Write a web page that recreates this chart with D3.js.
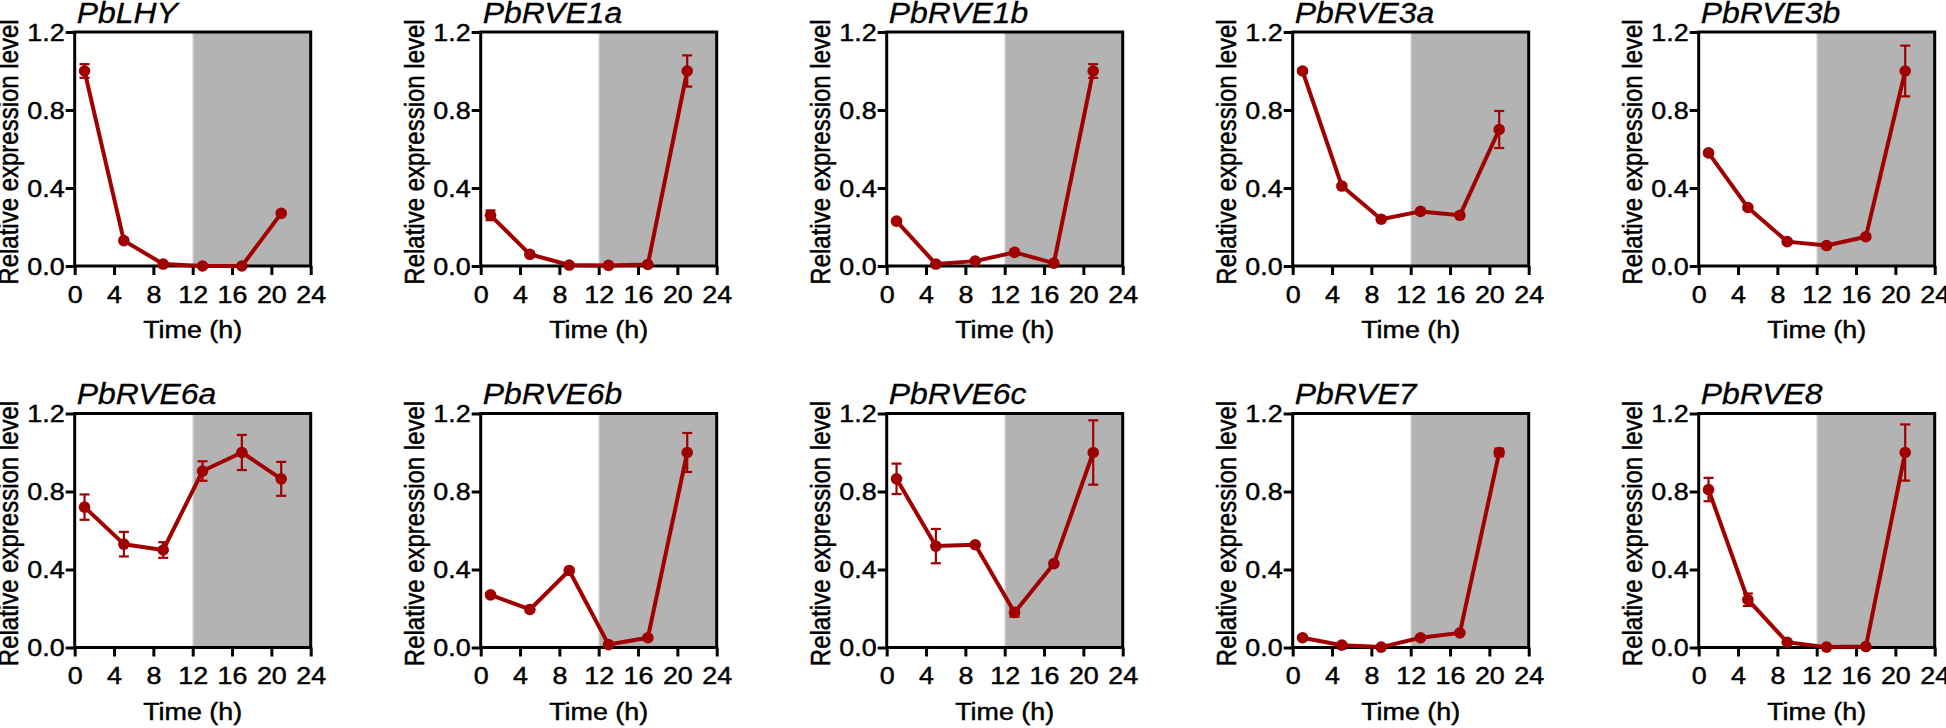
<!DOCTYPE html>
<html>
<head>
<meta charset="utf-8">
<script src="https://cdn.jsdelivr.net/npm/d3@7"></script>
<style>
  html, body { margin: 0; padding: 0; background: #ffffff; }
  svg { display: block; }
  text { font-family: "Liberation Sans", Arial, sans-serif; fill: #000; stroke: #000; stroke-width: 0.45px; }
</style>
</head>
<body>
<svg id="chart" width="1946" height="728"></svg>
<script>
// ---------------- data ----------------
const genes = ["PbLHY", "PbRVE1a", "PbRVE1b", "PbRVE3a", "PbRVE3b",
               "PbRVE6a", "PbRVE6b", "PbRVE6c", "PbRVE7", "PbRVE8"];
const times = [1, 5, 9, 13, 17, 21];
const xTicks = [0, 4, 8, 12, 16, 20, 24];
const yTicks = [0.0, 0.4, 0.8, 1.2];
const darkPeriod = [12, 24];

const meanLHY   = [1.00, 0.13, 0.01, 0.00, 0.00, 0.27];
const meanRVE1a = [0.26, 0.06, 0.005, 0.003, 0.008, 1.00];
const meanRVE1b = [0.23, 0.01, 0.025, 0.07, 0.015, 1.00];
const meanRVE3a = [1.00, 0.41, 0.24, 0.28, 0.26, 0.70];
const meanRVE3b = [0.58, 0.30, 0.125, 0.105, 0.15, 1.00];
const meanRVE6a = [0.72, 0.53, 0.50, 0.905, 1.00, 0.865];
const meanRVE6b = [0.27, 0.195, 0.395, 0.015, 0.05, 1.00];
const meanRVE6c = [0.865, 0.52, 0.527, 0.18, 0.43, 1.00];
const meanRVE7  = [0.05, 0.012, 0.002, 0.05, 0.075, 1.00];
const meanRVE8  = [0.81, 0.245, 0.027, 0.002, 0.005, 1.00];

const errLHY   = [0.035, 0.01, 0.005, 0, 0, 0.01];
const errRVE1a = [0.025, 0.01, 0.003, 0, 0, 0.08];
const errRVE1b = [0.01, 0.005, 0.005, 0.01, 0.005, 0.035];
const errRVE3a = [0.01, 0.01, 0.01, 0.01, 0.01, 0.095];
const errRVE3b = [0.01, 0.01, 0.01, 0.01, 0.01, 0.13];
const errRVE6a = [0.065, 0.063, 0.04, 0.05, 0.09, 0.087];
const errRVE6b = [0.01, 0.01, 0.01, 0.005, 0.01, 0.10];
const errRVE6c = [0.078, 0.088, 0.01, 0.022, 0.01, 0.165];
const errRVE7  = [0.005, 0.005, 0, 0.005, 0.005, 0.02];
const errRVE8  = [0.06, 0.032, 0.005, 0, 0, 0.144];

const means = [meanLHY, meanRVE1a, meanRVE1b, meanRVE3a, meanRVE3b,
               meanRVE6a, meanRVE6b, meanRVE6c, meanRVE7, meanRVE8];
const errs  = [errLHY, errRVE1a, errRVE1b, errRVE3a, errRVE3b,
               errRVE6a, errRVE6b, errRVE6c, errRVE7, errRVE8];

// ---------------- layout ----------------
const left0 = 74.7, colStep = 406, top0 = 32, rowStep = 381.5;
const W = 236, H = 234;
const SX = 1.12;            // horizontal stretch of text in the reference
const red = "#a00000";
const gray = "#b3b3b3";

const svg = d3.select("#chart");

const x = d3.scaleLinear().domain([0, 24]).range([0, W]);
const y = d3.scaleLinear().domain([0, 1.2]).range([H, 0]);

genes.forEach((gene, i) => {
  const col = i % 5, row = Math.floor(i / 5);
  const g = svg.append("g")
    .attr("transform", `translate(${left0 + col * colStep},${top0 + row * rowStep})`);

  // dark period shading
  g.append("rect")
    .attr("x", x(darkPeriod[0])).attr("y", 0)
    .attr("width", x(darkPeriod[1]) - x(darkPeriod[0])).attr("height", H)
    .attr("fill", gray);
  g.append("line")
    .attr("x1", x(darkPeriod[0]) + 0.5).attr("x2", x(darkPeriod[0]) + 0.5)
    .attr("y1", 0).attr("y2", H)
    .attr("stroke", "#d6d6d6").attr("stroke-width", 1);

  // axes
  const ya = g.append("g")
    .call(d3.axisLeft(y).tickValues(yTicks).tickSize(9).tickFormat(d3.format(".1f")));
  const xa = g.append("g").attr("transform", `translate(0,${H})`)
    .call(d3.axisBottom(x).tickValues(xTicks).tickSize(9).tickFormat(d3.format("d")));
  [ya, xa].forEach(a => {
    a.select(".domain").remove();
    a.selectAll(".tick line").attr("stroke", "#000").attr("stroke-width", 3);
    a.selectAll(".tick text")
      .attr("font-size", 24)
      .attr("font-family", "Liberation Sans, Arial, sans-serif")
      .attr("fill", "#000");
  });
  ya.selectAll(".tick text")
    .attr("x", -10 / SX).attr("dy", "0.35em")
    .attr("text-anchor", "end")
    .attr("transform", `scale(${SX},1)`);
  xa.selectAll(".tick text")
    .attr("y", 37).attr("dy", 0)
    .attr("text-anchor", "middle")
    .attr("transform", `scale(${SX},1)`);

  // frame
  g.append("rect")
    .attr("x", 0).attr("y", 0).attr("width", W).attr("height", H)
    .attr("fill", "none").attr("stroke", "#000").attr("stroke-width", 3);

  // axis titles
  g.append("text")
    .attr("transform", `translate(${W / 2},${H + 72}) scale(${SX},1)`)
    .attr("text-anchor", "middle").attr("font-size", 24)
    .text("Time (h)");
  g.append("text")
    .attr("transform", `translate(-57,${H / 2 + 3}) scale(${SX},1) rotate(-90)`)
    .attr("text-anchor", "middle").attr("font-size", 24)
    .text("Relative expression level");

  // panel title
  g.append("text")
    .attr("transform", `translate(2,-9.5) scale(1.1,1)`)
    .attr("font-size", 29).attr("font-style", "italic")
    .style("stroke-width", "0.3px")
    .text(gene);

  // data
  const pts = times.map((t, k) => ({ t, m: means[i][k], e: errs[i][k] }));

  const eb = g.append("g").attr("stroke", red).attr("stroke-width", 2.2).attr("fill", "none");
  pts.filter(p => p.e > 0).forEach(p => {
    const cx = x(p.t);
    eb.append("line").attr("x1", cx).attr("x2", cx)
      .attr("y1", y(p.m + p.e)).attr("y2", y(p.m - p.e));
    eb.append("line").attr("x1", cx - 5).attr("x2", cx + 5)
      .attr("y1", y(p.m + p.e)).attr("y2", y(p.m + p.e));
    eb.append("line").attr("x1", cx - 5).attr("x2", cx + 5)
      .attr("y1", y(p.m - p.e)).attr("y2", y(p.m - p.e));
  });

  g.append("path")
    .datum(pts)
    .attr("fill", "none").attr("stroke", red).attr("stroke-width", 4)
    .attr("stroke-linejoin", "round")
    .attr("d", d3.line().x(p => x(p.t)).y(p => y(p.m)));

  g.selectAll("circle.pt").data(pts).enter().append("circle")
    .attr("class", "pt")
    .attr("cx", p => x(p.t)).attr("cy", p => y(p.m))
    .attr("r", 5.8).attr("fill", red);
});
</script>
</body>
</html>
